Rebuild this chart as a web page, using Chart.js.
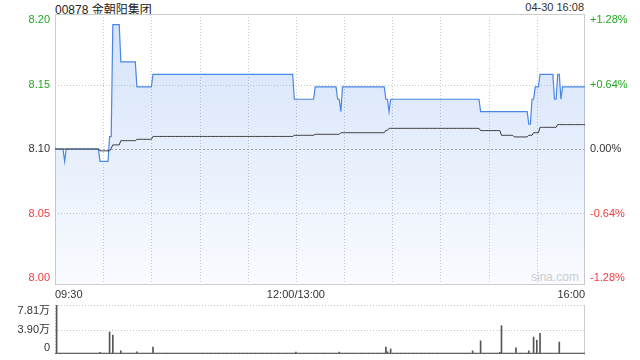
<!DOCTYPE html>
<html>
<head>
<meta charset="utf-8">
<script src="https://cdn.jsdelivr.net/npm/chart.js@4.4.1/dist/chart.umd.min.js"></script>
<style>
  html, body { margin: 0; padding: 0; background: #fff; }
  body { width: 640px; height: 360px; position: relative; overflow: hidden; font-family: "Liberation Sans", Arial, "Noto Sans CJK SC", sans-serif; }
  #main { position: absolute; left: 0; top: 0; width: 640px; height: 300px; }
  #vol { position: absolute; left: 0; top: 290px; width: 640px; height: 70px; }
  .txt { position: absolute; white-space: nowrap; color: #222; }
</style>
</head>
<body>
<div class="txt" style="left:55px; top:0px; font-size:12px;">00878 金朝阳集团</div>
<div class="txt" style="right:56px; top:1px; font-size:11px; color:#333;">04-30 16:08</div>
<div class="txt" style="left:531px; top:270px; font-size:12px; color:#d0d0d0;">sina.com</div>
<div id="main"><canvas id="price"></canvas></div>
<div id="vol"><canvas id="volume"></canvas></div>
<script>
// trading minutes: 09:30-12:00 + 13:00-16:00 = 330
const MINUTES = 330;
const PREV_CLOSE = 8.10;

const timeTickMinutes = [0, 150, 330];
const timeTickLabels = ['09:30', '12:00/13:00', '16:00'];

const pctTicks = [-1.28, -0.64, 0, 0.64, 1.28];
const priceTickLabels = ['8.00', '8.05', '8.10', '8.15', '8.20'];
const pctTickLabels = ['-1.28%', '-0.64%', '0.00%', '+0.64%', '+1.28%'];

// [minute where the level starts, price]
const priceSteps = [
  [0, 8.10], [6, 8.09], [7, 8.10], [28, 8.09], [34, 8.11], [36, 8.20],
  [41, 8.17], [51, 8.15], [61, 8.16], [149, 8.14], [162, 8.15],
  [176, 8.14], [178, 8.13], [179, 8.15], [206, 8.14], [208, 8.13],
  [209, 8.14], [265, 8.13], [295, 8.12], [297, 8.14], [299, 8.15],
  [302, 8.16], [311, 8.14], [313, 8.16], [315, 8.14], [316, 8.15]
];

// average price line
const avgSteps = [
  [0, 8.100], [28, 8.0985], [35, 8.1005], [36, 8.1033], [41, 8.1067],
  [51, 8.1078], [61, 8.1101], [149, 8.1110], [162, 8.1118], [178, 8.1131],
  [206, 8.1150], [208, 8.1166], [265, 8.1148], [278, 8.1110], [286, 8.1097],
  [295, 8.1110], [298, 8.1131], [302, 8.1174], [313, 8.1196]
];

// volume in 万; other minutes carry only a tiny bar
const volumeBaseline = 0.15;
const volumeBars = [
  [1, 7.81], [28, 0.25], [34, 3.5], [36, 3.0], [41, 0.5], [51, 0.35],
  [61, 1.1], [150, 0.3], [177, 0.3], [206, 1.1], [207, 0.35], [209, 0.8],
  [260, 0.5], [265, 2.1], [277, 0.25], [278, 4.5], [287, 1.0], [295, 0.5],
  [298, 2.7], [300, 2.2], [302, 3.3], [314, 1.9]
];
const volumeTicks = [0, 3.90, 7.81];
const volumeTickLabels = ['0', '3.90万', '7.81万'];

function expand(steps) {
  const out = [];
  let k = 0;
  for (let m = 0; m <= MINUTES; m++) {
    while (k + 1 < steps.length && steps[k + 1][0] <= m) k++;
    out.push({ x: m, y: steps[k][1] });
  }
  return out;
}

const volumeData = [];
for (let m = 0; m <= MINUTES; m++) volumeData.push({ x: m, y: volumeBaseline });
volumeBars.forEach(([m, v]) => { volumeData[m].y = v; });

Chart.defaults.font.family = '"Liberation Sans", Arial, "Noto Sans CJK SC", sans-serif';
Chart.defaults.font.size = 11;

const GREEN = '#22a722', RED = '#f03a3a', DARK = '#333';
const tickColor = (ctx) => ctx.index < 2 ? RED : (ctx.index === 2 ? DARK : GREEN);
const pad = 0.06; // percent beyond the outer ticks

const line = (ctx, x1, y1, x2, y2) => { ctx.beginPath(); ctx.moveTo(x1, y1); ctx.lineTo(x2, y2); ctx.stroke(); };

const priceGrid = {
  id: 'priceGrid',
  beforeDatasetsDraw(chart) {
    const { ctx, chartArea: a, scales } = chart;
    ctx.save();
    ctx.lineWidth = 1;
    ctx.strokeStyle = '#c8c8c8';
    ctx.setLineDash([1, 2]);
    scales.x.ticks.forEach(t => {
      if (t.value <= 0 || t.value >= MINUTES) return;
      const px = Math.round(scales.x.getPixelForValue(t.value)) + 0.5;
      line(ctx, px, a.top, px, a.bottom);
    });
    scales.y2.ticks.forEach(t => {
      if (Math.abs(t.value) !== 0.64) return;
      const py = Math.round(scales.y2.getPixelForValue(t.value)) + 0.5;
      line(ctx, a.left, py, a.right, py);
    });
    ctx.strokeStyle = '#a8a8a8';
    ctx.setLineDash([2, 2]);
    const p0 = Math.round(scales.y2.getPixelForValue(0)) + 0.5;
    line(ctx, a.left, p0, a.right, p0);
    ctx.setLineDash([]);
    ctx.strokeStyle = '#cccccc';
    ctx.strokeRect(Math.round(a.left) + 0.5, Math.round(a.top) + 0.5, Math.round(a.right - a.left) - 1, Math.round(a.bottom - a.top));
    ctx.restore();
  }
};

new Chart(document.getElementById('price'), {
  type: 'line',
  data: {
    datasets: [
      {
        data: expand(avgSteps),
        borderColor: '#3a3a3a',
        borderWidth: 1,
        pointRadius: 0,
        fill: false,
        tension: 0
      },
      {
        data: expand(priceSteps),
        borderColor: '#4a86e8',
        borderWidth: 1.2,
        pointRadius: 0,
        tension: 0,
        fill: 'start',
        backgroundColor: (c) => {
          const a = c.chart.chartArea;
          if (!a) return 'rgba(74,134,232,0.15)';
          const g = c.chart.ctx.createLinearGradient(0, a.top, 0, a.bottom);
          g.addColorStop(0, 'rgba(74,134,232,0.24)');
          g.addColorStop(1, 'rgba(74,134,232,0.03)');
          return g;
        }
      }
    ]
  },
  options: {
    responsive: true,
    maintainAspectRatio: false,
    animation: false,
    events: [],
    layout: { padding: { top: 14, left: 0, right: 0, bottom: 0 } },
    plugins: { legend: { display: false }, tooltip: { enabled: false } },
    scales: {
      x: {
        type: 'linear',
        min: 0, max: MINUTES,
        grid: { display: false, drawTicks: false },
        border: { display: false },
        afterBuildTicks: (s) => { s.ticks = []; for (let m = 0; m <= MINUTES; m += 30) s.ticks.push({ value: m }); },
        ticks: {
          autoSkip: false, maxRotation: 0, align: 'inner', padding: 4, color: DARK,
          callback: (v) => { const i = timeTickMinutes.indexOf(v); return i >= 0 ? timeTickLabels[i] : ''; }
        },
        afterFit: (s) => { s.height = 16; }
      },
      y: {
        position: 'left',
        min: PREV_CLOSE * (1 + (pctTicks[0] - pad) / 100),
        max: PREV_CLOSE * (1 + (pctTicks[4] + pad) / 100),
        grid: { display: false, drawTicks: false },
        border: { display: false },
        afterBuildTicks: (s) => { s.ticks = pctTicks.map(p => ({ value: PREV_CLOSE * (1 + p / 100) })); },
        ticks: { autoSkip: false, padding: 5, color: tickColor, callback: (v, i) => priceTickLabels[i] },
        afterFit: (s) => { s.width = 55; }
      },
      y2: {
        position: 'right',
        min: pctTicks[0] - pad,
        max: pctTicks[4] + pad,
        grid: { display: false, drawTicks: false },
        border: { display: false },
        afterBuildTicks: (s) => { s.ticks = pctTicks.map(p => ({ value: p })); },
        ticks: { autoSkip: false, padding: 5, color: tickColor, callback: (v, i) => pctTickLabels[i] },
        afterFit: (s) => { s.width = 55; }
      }
    }
  },
  plugins: [priceGrid]
});

const volGrid = {
  id: 'volGrid',
  beforeDatasetsDraw(chart) {
    const { ctx, chartArea: a, scales } = chart;
    ctx.save();
    ctx.lineWidth = 1;
    ctx.strokeStyle = '#c8c8c8';
    ctx.setLineDash([1, 2]);
    volumeTicks.forEach(v => {
      if (v === 0) return;
      const py = Math.round(scales.y.getPixelForValue(v)) + 0.5;
      line(ctx, a.left, py, a.right, py);
    });
    const lx = Math.round(a.left) + 0.5;
    line(ctx, lx, a.top, lx, a.bottom);
    ctx.setLineDash([]);
    ctx.strokeStyle = '#cccccc';
    const rx = Math.round(a.right) - 0.5;
    line(ctx, rx, a.top, rx, a.bottom + 1);
    ctx.restore();
  }
};

new Chart(document.getElementById('volume'), {
  type: 'bar',
  data: {
    datasets: [{
      data: volumeData,
      backgroundColor: '#555',
      barThickness: 1
    }]
  },
  options: {
    responsive: true,
    maintainAspectRatio: false,
    animation: false,
    events: [],
    layout: { padding: { top: 15, left: 0, right: 55, bottom: 6 } },
    plugins: { legend: { display: false }, tooltip: { enabled: false } },
    scales: {
      x: {
        type: 'linear', min: 0, max: MINUTES, offset: false,
        display: false,
        grid: { offset: false }
      },
      y: {
        min: 0, max: volumeTicks[2],
        grid: { display: false, drawTicks: false },
        border: { display: false },
        afterBuildTicks: (s) => { s.ticks = volumeTicks.map(v => ({ value: v })); },
        ticks: {
          autoSkip: false, padding: 5, color: DARK,
          font: { size: 11, lineHeight: 1.1 },
          callback: (v, i) => i === 0 ? [volumeTickLabels[i], ''] : (i === 2 ? ['', volumeTickLabels[i]] : volumeTickLabels[i])
        },
        afterFit: (s) => { s.width = 55; s.paddingTop = 0; s.paddingBottom = 0; }
      }
    }
  },
  plugins: [volGrid]
});
</script>
</body>
</html>
